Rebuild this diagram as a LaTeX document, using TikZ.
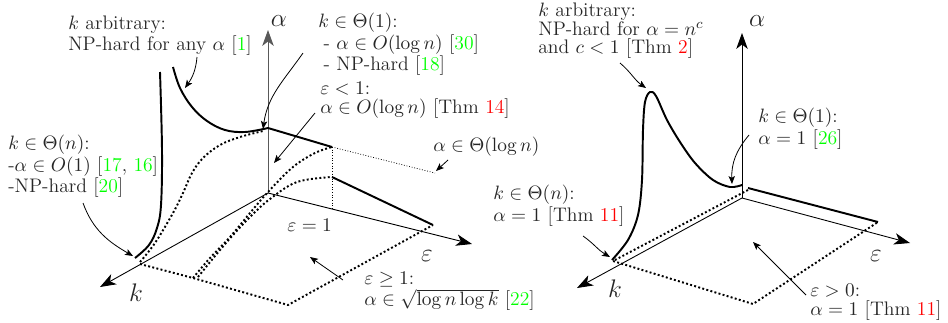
\documentclass[tikz,border=0pt]{standalone}
\usetikzlibrary{arrows.meta}
\definecolor{cg}{RGB}{0,255,0}
\definecolor{cr}{RGB}{255,0,0}
\newcommand{\gref}[1]{\textcolor{cg}{#1}}
\newcommand{\rref}[1]{\textcolor{cr}{#1}}
\begin{document}
\begin{tikzpicture}[x=0.566pt,y=-0.566pt,
  axis/.style={line width=0.5pt,-{Stealth[length=9pt,width=6.5pt,inset=2.5pt]}},
  thk/.style={line width=1.1pt},
  dotl/.style={line width=1.1pt,dash pattern=on 1.1pt off 1.3pt},
  thindot/.style={line width=0.4pt,dash pattern=on 0.5pt off 1pt},
  ann/.style={line width=0.45pt,-{Stealth[length=4.5pt,width=3.6pt,inset=1pt]}},
  txt/.style={anchor=north west,inner sep=0pt,align=left,font=\fontsize{11.1}{10.4}\selectfont,text=black!85},
  lbl/.style={inner sep=0pt,font=\fontsize{15}{15}\selectfont,text=black!85}]
\useasboundingbox (0,0) rectangle (948,322);

% ---------------- left diagram ----------------
\coordinate (O1) at (268,193);
\coordinate (A1) at (268,30);
\coordinate (K1) at (100,287);
\coordinate (E1) at (472,244);
\draw[axis,black!65] (O1) -- (A1);
\draw[axis] (O1) -- (K1);
\draw[axis] (O1) -- (E1);
\node[lbl] (la1) at (279,21) {$\alpha$};
\node[lbl] (lk1) at (136,293) {$k$};
\node[lbl] (le1) at (427,256) {$\varepsilon$};

% surfaces
\coordinate (P1) at (268,128);
\coordinate (P2) at (332,147);
\coordinate (P3) at (435,173);
\coordinate (P4) at (332,208);
\coordinate (P5) at (332,177);
\coordinate (P6) at (433,225);
\coordinate (B1) at (140,264);
\coordinate (B2) at (193,278);
\coordinate (B3) at (288,305);
\draw[thk] plot[smooth,tension=0.6] coordinates {(173,67) (180,88) (192,107) (207,121) (225,130) (245,132) (P1)};
\draw[thk] (P1) -- (P2);
\draw[thindot] (P2) -- (P3);
\draw[thindot] (P2) -- (P4);
\draw[thk] (P5) -- (P6);
\draw[thk] plot[smooth,tension=0.6] coordinates {(160,72) (162,150) (161,205) (157,228) (149,245) (135,258)};
\draw[dotl] plot[smooth,tension=0.6] coordinates {(140,262) (155,243) (173,213) (183,193) (192,173) (203,158) (220,145) (240,137) (263,131)};
\draw[dotl] plot[smooth,tension=0.6] coordinates {(B2) (210,258) (230,237) (250,213) (268,192) (293,167) (315,153) (P2)};
\draw[dotl] plot[smooth,tension=0.6] coordinates {(198,277) (215,256) (233,235) (252,215) (270,199) (297,182) (P5)};
\draw[dotl] (B1) -- (B2) -- (B3) -- (P6);

% annotations
\node[txt] (t1) at (68,16) {$k$ arbitrary:\\NP-hard for any $\alpha$ [\gref{1}]};
\coordinate (a1s) at (197,57); \coordinate (a1e) at (185,88);
\draw[ann] (a1s) to[out=-95,in=55] (a1e);

\node[txt] (t2) at (318,13) {$k\in\Theta(1)$:\\\hspace{3pt}- $\alpha\in O(\log n)$ [\gref{30}]\\\hspace{3pt}- NP-hard [\gref{18}]};
\coordinate (a2s) at (303,53); \coordinate (a2e) at (263,129);
\draw[ann] (a2s) to[out=-125,in=82] (a2e);

\node[txt] (t3) at (320,82) {$\varepsilon<1$:\\$\alpha\in O(\log n)$ [Thm \rref{14}]};
\coordinate (a3s) at (315,113); \coordinate (a3e) at (274,163);
\draw[ann] (a3s) -- (a3e);

\node[txt] (t4) at (433,137) {$\alpha\in\Theta(\log n)$};
\coordinate (a4s) at (448,160); \coordinate (a4e) at (436,171);
\draw[ann] (a4s) -- (a4e);

\node[txt] (t5) at (8,135) {$k\in\Theta(n)$:\\-$\alpha\in O(1)$ [\gref{17}, \gref{16}]\\-NP-hard [\gref{20}]};
\coordinate (a5s) at (83,203); \coordinate (a5e) at (133,256);
\draw[ann] (a5s) to[out=-70,in=150] (a5e);

\node[txt] (t6) at (287,219) {$\varepsilon=1$};

\node[txt] (t7) at (364,272) {$\varepsilon\geq1$:\\$\alpha\in\sqrt{\log n\log k}$ [\gref{22}]};
\coordinate (a7s) at (343,280); \coordinate (a7e) at (310,257);
\draw[ann] (a7s) -- (a7e);

% ---------------- right diagram ----------------
\coordinate (O2) at (742,198);
\coordinate (A2) at (742,33);
\coordinate (K2) at (577,288);
\coordinate (E2) at (910,243);
\draw[axis] (O2) -- (A2);
\draw[axis] (O2) -- (K2);
\draw[axis] (O2) -- (E2);
\node[lbl] (la2) at (757,21) {$\alpha$};
\node[lbl] (lk2) at (615,289) {$k$};
\node[lbl] (le2) at (876,256) {$\varepsilon$};

\coordinate (Q1) at (748,188);
\coordinate (Q2) at (878,222);
\coordinate (Q3) at (753,304);
\coordinate (Q4) at (613,261);
\coordinate (Q5) at (748,190);
\draw[thk] (Q1) -- (Q2);
\draw[dotl] (Q5) -- (Q4) -- (Q3) -- (Q2);
\draw[thk] plot[smooth,tension=0.55] coordinates {(612,260) (628,240) (638,215) (642,180) (643,130) (645,102) (650,92) (656,96) (667,120) (680,142) (695,163) (713,180) (730,187) (742,185)};

\node[txt] (r1) at (538,3) {$k$ arbitrary:\\NP-hard for $\alpha=n^c$\\and $c<1$ [Thm \rref{2}]};
\coordinate (b1s) at (620,63); \coordinate (b1e) at (646,88);
\draw[ann] (b1s) to[out=-40,in=145] (b1e);

\node[txt] (r2) at (758,108) {$k\in\Theta(1)$:\\$\alpha=1$ [\gref{26}]};
\coordinate (b2s) at (749,135); \coordinate (b2e) at (732,184);
\draw[ann] (b2s) to[out=-130,in=92] (b2e);

\node[txt] (r3) at (493,185) {$k\in\Theta(n)$:\\$\alpha=1$ [Thm \rref{11}]};
\coordinate (b3s) at (583,236); \coordinate (b3e) at (610,257);
\draw[ann] (b3s) to[out=-35,in=150] (b3e);

\node[txt] (r4) at (810,284) {$\varepsilon>0$:\\$\alpha=1$ [Thm \rref{11}]};
\coordinate (b4s) at (806,295); \coordinate (b4e) at (753,242);
\draw[ann] (b4s) -- (b4e);
\end{tikzpicture}
\end{document}
